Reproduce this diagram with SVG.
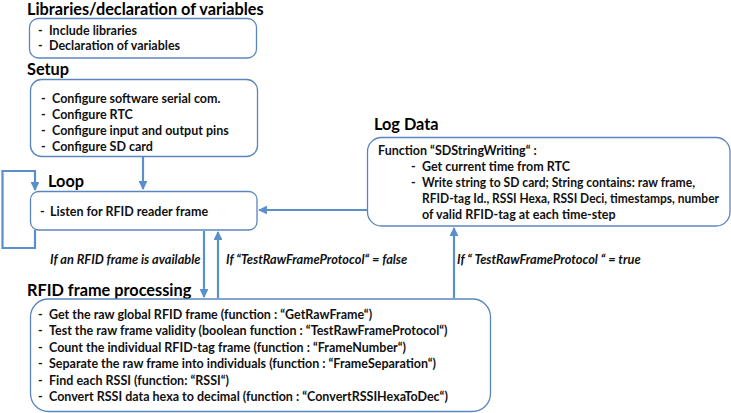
<svg xmlns="http://www.w3.org/2000/svg" width="731" height="413" viewBox="0 0 731 413">
<defs>
<marker id="ah" viewBox="0 0 10 10" refX="9" refY="5" markerWidth="4" markerHeight="4" orient="auto-start-reverse"><path d="M0,0 L10,5 L0,10 z" fill="#5b8fc9"/></marker>
<style>
.box{fill:#fff;stroke:#5a86bd;stroke-width:1.3}
.title{font-family:Lato,"Liberation Sans",sans-serif;font-weight:bold;font-size:16.3px;fill:#000}
.t{font-family:Lato,"Liberation Sans",sans-serif;font-weight:bold;font-size:12.5px;fill:#111}
.lbl{font-family:Lato,"Liberation Sans",sans-serif;font-weight:bold;font-style:italic;font-size:12.8px;fill:#111}
.c{fill:none;stroke:#5b8fc9;stroke-width:2.2}
</style>
</defs>
<rect width="731" height="413" fill="#fff"/>
<g id="libraries">
<text class="title" x="27" y="15">Libraries/declaration of variables</text>
<rect class="box" x="29.5" y="18.5" width="227" height="39.5" rx="9"/>
<text class="t" x="38" y="35">-</text><text class="t" x="49" y="35">Include libraries</text>
<text class="t" x="38" y="50">-</text><text class="t" x="49" y="50">Declaration of variables</text>
</g>
<g id="setup">
<text class="title" x="27" y="75">Setup</text>
<rect class="box" x="30.5" y="79.5" width="227" height="77" rx="11"/>
<text class="t" x="41" y="103">-</text><text class="t" x="52" y="103">Configure software serial com.</text>
<text class="t" x="41" y="119">-</text><text class="t" x="52" y="119">Configure RTC</text>
<text class="t" x="41" y="135">-</text><text class="t" x="52" y="135">Configure input and output pins</text>
<text class="t" x="41" y="151">-</text><text class="t" x="52" y="151">Configure SD card</text>
</g>
<g id="loop">
<text class="title" x="48" y="187">Loop</text>
<rect class="box" x="30.5" y="191.5" width="226.5" height="38.5" rx="8"/>
<text class="t" x="40" y="216">-</text><text class="t" x="50" y="216">Listen for RFID reader frame</text>
</g>
<g id="logdata">
<text class="title" x="374" y="130">Log Data</text>
<rect class="box" x="367.5" y="137.5" width="362.5" height="88.5" rx="14"/>
<text class="t" x="378" y="155">Function “SDStringWriting“ :</text>
<text class="t" x="411" y="171">-</text><text class="t" x="422" y="171">Get current time from RTC</text>
<text class="t" x="411" y="187">-</text><text class="t" x="422" y="187" textLength="273" lengthAdjust="spacingAndGlyphs">Write string to SD card; String contains: raw frame,</text>
<text class="t" x="422" y="203" textLength="297" lengthAdjust="spacingAndGlyphs">RFID-tag Id., RSSI Hexa, RSSI Deci, timestamps, number</text>
<text class="t" x="422" y="219">of valid RFID-tag at each time-step</text>
</g>
<g id="rfid">
<text class="title" x="27" y="296">RFID frame processing</text>
<rect class="box" x="30.5" y="299" width="460" height="112.5" rx="18"/>
<text class="t" x="38" y="319">-</text><text class="t" x="49" y="319">Get the raw global RFID frame (function : “GetRawFrame“)</text>
<text class="t" x="38" y="335">-</text><text class="t" x="49" y="335">Test the raw frame validity (boolean function : “TestRawFrameProtocol“)</text>
<text class="t" x="38" y="352">-</text><text class="t" x="49" y="352">Count the individual RFID-tag frame (function : “FrameNumber“)</text>
<text class="t" x="38" y="368">-</text><text class="t" x="49" y="368">Separate the raw frame into individuals (function : “FrameSeparation“)</text>
<text class="t" x="38" y="385">-</text><text class="t" x="49" y="385">Find each RSSI (function: “RSSI“)</text>
<text class="t" x="38" y="401">-</text><text class="t" x="49" y="401">Convert RSSI data hexa to decimal (function : “ConvertRSSIHexaToDec“)</text>
</g>
<g id="connectors">
<path class="c" d="M143,157 V189" marker-end="url(#ah)"/>
<path class="c" d="M35,230 V248 H2.5 V171 H35 V190" marker-end="url(#ah)"/>
<path class="c" d="M204,231 V297" marker-end="url(#ah)"/>
<path class="c" d="M218,298 V232" marker-end="url(#ah)"/>
<path class="c" d="M367,210 H259" marker-end="url(#ah)"/>
<path class="c" d="M454,298 V228" marker-end="url(#ah)"/>
<text class="lbl" x="50" y="264">If an RFID frame is available</text>
<text class="lbl" x="226" y="264">If “TestRawFrameProtocol“ = false</text>
<text class="lbl" x="457" y="264">If “ TestRawFrameProtocol “ = true</text>
</g>
</svg>
